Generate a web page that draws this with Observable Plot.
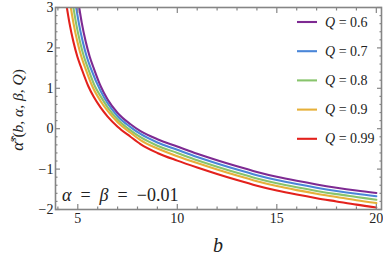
<!DOCTYPE html>
<html><head><meta charset="utf-8">
<script src="https://cdn.jsdelivr.net/npm/d3@7"></script>
<script src="https://cdn.jsdelivr.net/npm/@observablehq/plot@0.6"></script>
<style>
html,body{margin:0;padding:0;background:#fff}
svg text, svg tspan { font-family: "Liberation Serif", serif; }
</style>
</head><body><div id="chart"></div>
<script>
// ---- data ----
const qValues = [0.6, 0.7, 0.8, 0.9, 0.99];
const qColors = ["#7e2a92", "#4a86d8", "#88c46c", "#e6b03a", "#e3211c"];

const bQ06 = [5.07, 5.2, 5.4, 5.6, 5.8, 6.15, 6.5, 7, 7.65, 8.15, 9, 10, 11, 12, 13, 14, 15, 16, 17, 18, 19, 20];
const aQ06 = [3.0, 2.62, 2.15, 1.78, 1.5, 1.05, 0.72, 0.39, 0.11, -0.06, -0.26, -0.44, -0.62, -0.78, -0.93, -1.07, -1.19, -1.29, -1.38, -1.46, -1.53, -1.59];

const bQ07 = [4.92, 5.05, 5.25, 5.45, 5.65, 6.15, 6.5, 7, 7.65, 8.15, 9, 10, 11, 12, 13, 14, 15, 16, 17, 18, 19, 20];
const aQ07 = [3.0, 2.62, 2.15, 1.78, 1.5, 0.93, 0.63, 0.31, 0.04, -0.13, -0.34, -0.52, -0.70, -0.86, -1.01, -1.15, -1.27, -1.37, -1.46, -1.54, -1.61, -1.67];

const bQ08 = [4.78, 4.91, 5.11, 5.31, 5.51, 5.86, 6.15, 6.5, 7, 7.65, 8.15, 9, 10, 11, 12, 13, 14, 15, 16, 17, 18, 19, 20];
const aQ08 = [3.0, 2.62, 2.15, 1.78, 1.5, 1.05, 0.80, 0.53, 0.23, -0.04, -0.21, -0.42, -0.60, -0.78, -0.94, -1.09, -1.23, -1.35, -1.45, -1.54, -1.62, -1.69, -1.76];

const bQ09 = [4.65, 4.78, 4.98, 5.18, 5.38, 5.73, 6.15, 6.5, 7, 7.65, 8.15, 9, 10, 11, 12, 13, 14, 15, 16, 17, 18, 19, 20];
const aQ09 = [3.0, 2.62, 2.15, 1.78, 1.5, 1.05, 0.68, 0.44, 0.16, -0.10, -0.28, -0.49, -0.68, -0.85, -1.01, -1.16, -1.30, -1.42, -1.52, -1.61, -1.69, -1.77, -1.84];

const bQ099 = [4.45, 4.58, 4.78, 4.98, 5.18, 5.53, 5.8, 6.15, 6.5, 7, 7.65, 8.15, 9, 10, 11, 12, 13, 14, 15, 16, 17, 18, 19, 20];
const aQ099 = [3.0, 2.62, 2.15, 1.78, 1.5, 1.05, 0.79, 0.52, 0.30, 0.05, -0.20, -0.38, -0.60, -0.79, -0.96, -1.12, -1.27, -1.41, -1.53, -1.63, -1.72, -1.80, -1.88, -1.95];

const xMajor = [5, 10, 15, 20];
const xMinor = [4, 6, 7, 8, 9, 11, 12, 13, 14, 16, 17, 18, 19];
const yMajor = [-2, -1, 0, 1, 2, 3];
const yMinor = [-1.8, -1.6, -1.4, -1.2, -0.8, -0.6, -0.4, -0.2, 0.2, 0.4, 0.6, 0.8, 1.2, 1.4, 1.6, 1.8, 2.2, 2.4, 2.6, 2.8];
const annotation = "α = β = −0.01";

// ---- build table ----
const seriesB = [bQ06, bQ07, bQ08, bQ09, bQ099];
const seriesA = [aQ06, aQ07, aQ08, aQ09, aQ099];
const qLabels = qValues.map(q => "Q = " + q);
const rows = [];
seriesB.forEach((bs, i) => bs.forEach((b, j) => rows.push({b, a: seriesA[i][j], q: qLabels[i]})));

const serif = "Liberation Serif";
const frameColor = "#858585";
const axisCommon = {stroke: frameColor, strokeWidth: 1.2, fill: "#222", label: null};

const chart = Plot.plot({
  width: 383, height: 263,
  marginLeft: 55, marginRight: 2, marginTop: 7, marginBottom: 54,
  style: {fontFamily: serif, fontSize: "14px", background: "white", overflow: "visible"},
  x: {domain: [3.88, 20.26]},
  y: {domain: [-2, 3]},
  color: {domain: qLabels, range: qColors},
  marks: [
    Plot.line(rows, {x: "b", y: "a", z: "q", stroke: "q", strokeWidth: 2.1, curve: "monotone-x", clip: true}),
    Plot.axisX({...axisCommon, anchor: "bottom", ticks: xMajor, tickSize: -5, tickPadding: 9, tickFormat: d => String(d)}),
    Plot.axisX({...axisCommon, anchor: "bottom", ticks: xMinor, tickSize: -2.5, tickFormat: () => ""}),
    Plot.axisX({...axisCommon, anchor: "top", ticks: xMajor, tickSize: -5, tickFormat: () => ""}),
    Plot.axisX({...axisCommon, anchor: "top", ticks: xMinor, tickSize: -2.5, tickFormat: () => ""}),
    Plot.axisY({...axisCommon, anchor: "left", ticks: yMajor, tickSize: -5, tickPadding: 7, tickFormat: d => d < 0 ? "−" + Math.abs(d) : String(d)}),
    Plot.axisY({...axisCommon, anchor: "left", ticks: yMinor, tickSize: -2.5, tickFormat: () => ""}),
    Plot.axisY({...axisCommon, anchor: "right", ticks: yMajor, tickSize: -5, tickFormat: () => ""}),
    Plot.axisY({...axisCommon, anchor: "right", ticks: yMinor, tickSize: -2.5, tickFormat: () => ""}),
    Plot.frame({stroke: frameColor, strokeWidth: 1.6})
  ]
});
document.getElementById("chart").appendChild(chart);

// ---- text decorations & legend ----
const svg = d3.select(chart);

// y label
const yl = svg.append("text")
  .attr("transform", "translate(23,110) rotate(-90)")
  .attr("text-anchor", "middle")
  .attr("font-family", serif).attr("font-size", 15.5).attr("fill", "#222")
  .style("white-space", "pre");
yl.append("tspan").attr("font-style", "italic").attr("font-size", 17).text("α\u0302");
yl.append("tspan").attr("font-size", 11).attr("dy", "-7").text("s");
yl.append("tspan").attr("dy", "7").text("(");
yl.append("tspan").attr("font-style", "italic").text("b");
yl.append("tspan").text(", ");
yl.append("tspan").attr("font-style", "italic").text("α");
yl.append("tspan").text(", ");
yl.append("tspan").attr("font-style", "italic").text("β");
yl.append("tspan").text(", ");
yl.append("tspan").attr("font-style", "italic").text("Q");
yl.append("tspan").text(")");

// x label
svg.append("text").attr("x", 218).attr("y", 252).attr("text-anchor", "middle")
  .attr("font-family", serif).attr("font-size", 20).attr("font-style", "italic").attr("fill", "#222").text("b");

// annotation: greek letters italic, rest upright
const ann = svg.append("text").attr("x", 62).attr("y", 201).attr("text-anchor", "start")
  .attr("font-family", serif).attr("font-size", 18).attr("fill", "#222")
  .style("white-space", "pre");
annotation.split(/(\s+)/).forEach(part => {
  const isGreek = /^[α-ω]$/.test(part);
  ann.append("tspan").attr("font-style", isGreek ? "italic" : "normal").text(part.replace(/\s+/, "  "));
});

// legend
qLabels.forEach((lab, i) => {
  const y = 22 + i * 29.2;
  svg.append("line").attr("x1", 297).attr("x2", 317).attr("y1", y).attr("y2", y)
    .attr("stroke", qColors[i]).attr("stroke-width", 2.1);
  const t = svg.append("text").attr("x", 325).attr("y", y + 4.5).attr("text-anchor", "start")
    .attr("font-family", serif).attr("font-size", 14).attr("fill", "#222")
    .style("white-space", "pre");
  t.append("tspan").attr("font-style", "italic").text("Q");
  t.append("tspan").text(" = " + qValues[i]);
});
</script>
</body></html>
